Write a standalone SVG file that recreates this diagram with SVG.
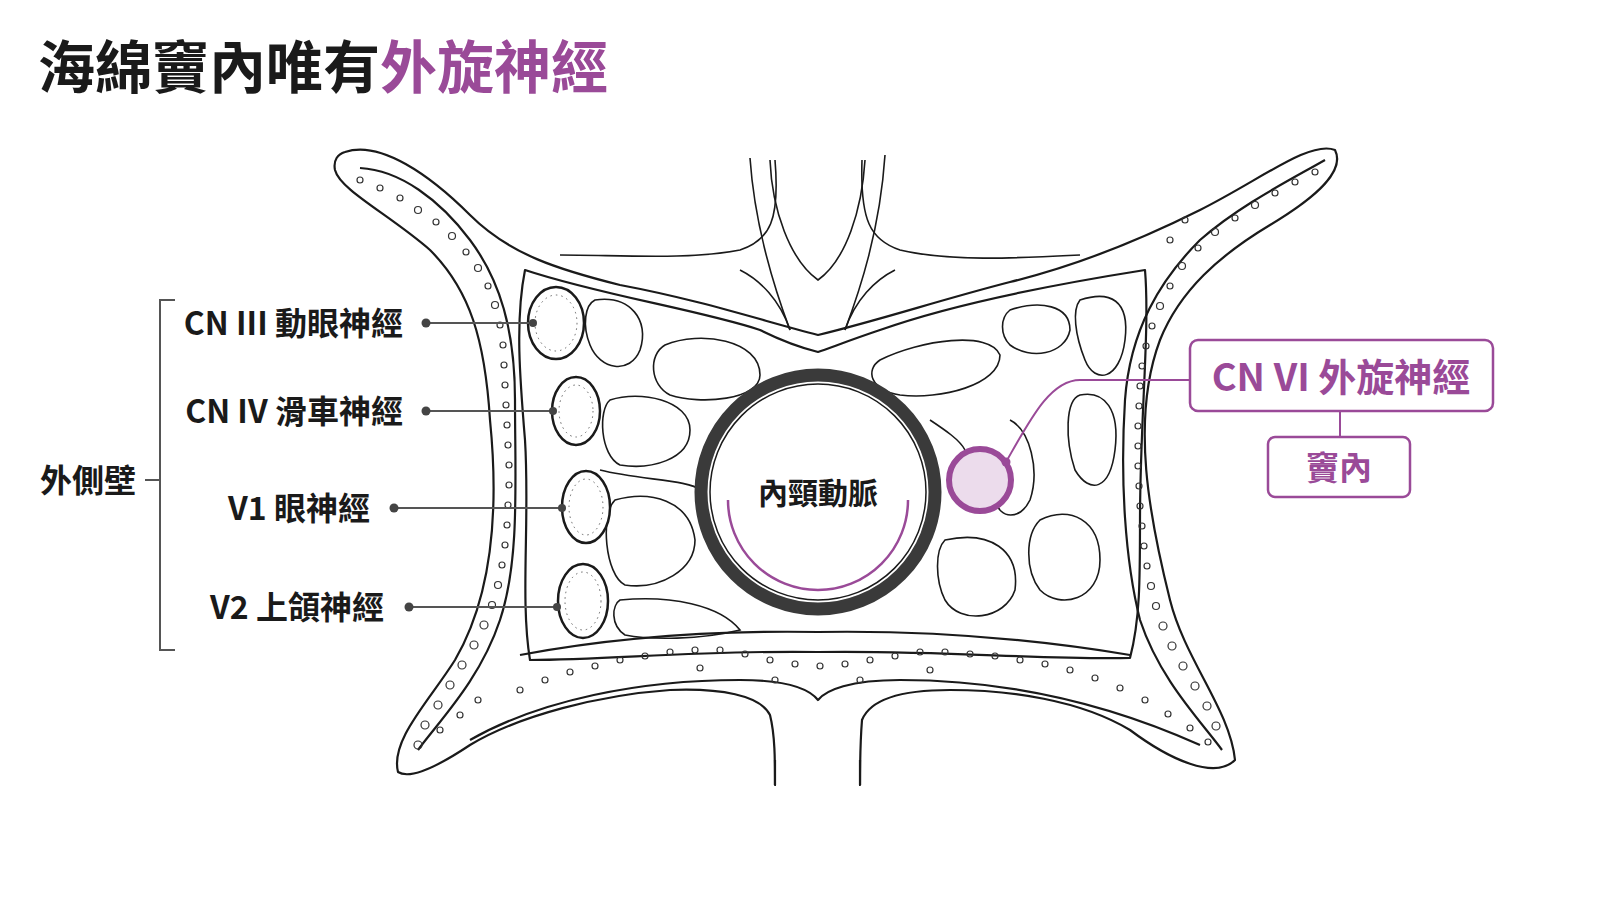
<svg xmlns="http://www.w3.org/2000/svg" width="1600" height="900" viewBox="0 0 1600 900">
<style>
.ln{fill:none;stroke:#1a1a1a;stroke-width:2.2;stroke-linejoin:round}
.th{fill:none;stroke:#1a1a1a;stroke-width:1.6}
.dot{fill:none;stroke:#333;stroke-width:1.2}
.lbl{font-family:"Noto Sans CJK TC","Noto Sans",sans-serif;font-weight:700;fill:#1a1a1a}
.pur{fill:#9a4a98}
.pl{stroke:#555;stroke-width:2;fill:none}
</style>
<rect width="1600" height="900" fill="#fff"/>
<text x="38" y="88" class="lbl" font-size="57">海綿竇內唯有<tspan class="pur">外旋神經</tspan></text>

<g id="bone">
<path class="ln" fill="#fff" d="M345,152 C380,140 430,175 470,215 C510,255 560,270 620,285 C700,300 760,320 818,335 C880,320 940,300 1010,282 C1080,265 1140,240 1200,210 C1260,180 1310,140 1335,150 C1345,170 1320,195 1270,225 C1220,255 1180,290 1160,340 C1130,420 1150,520 1170,600 C1185,660 1230,710 1235,760 C1215,780 1170,760 1130,730 C1080,700 1010,690 950,690 C900,690 870,700 862,720 C860,745 860,770 860,785 L775,785 C775,760 775,735 770,715 C760,695 720,688 670,690 C600,695 520,715 470,745 C440,765 410,780 398,772 C390,740 430,700 455,660 C490,600 500,520 490,420 C485,340 470,290 430,250 C390,215 340,190 335,170 C333,160 338,154 345,152 Z"/>
<rect x="776" y="700" width="83" height="90" fill="#fff"/>
<path class="ln" d="M860,785 L860,760 M775,785 L775,760"/>
<path class="ln" d="M360,168 C400,170 440,200 470,240 C500,280 515,330 515,400 C515,480 520,560 500,620 C480,680 440,720 418,750"/>
<path class="ln" d="M1325,160 C1290,180 1240,205 1200,240 C1160,280 1130,330 1125,400 C1120,480 1125,560 1140,620 C1160,680 1200,720 1222,750"/>
<path class="ln" d="M520,655 C600,640 700,630 818,632 C940,630 1040,640 1130,655"/>
<path class="ln" d="M470,740 C540,700 640,680 740,680 C790,680 810,690 818,700 C826,690 850,680 900,680 C1000,680 1100,700 1200,745"/>
</g>

<g id="stalk">
<path class="th" d="M750,158 C755,230 775,290 790,330"/>
<path class="th" d="M885,155 C880,230 860,290 845,330"/>
<path class="th" d="M770,160 C772,210 790,260 818,280 C846,260 862,210 865,160"/>
<path class="th" d="M560,255 C620,255 690,260 740,250 C770,240 780,220 775,160"/>
<path class="th" d="M1080,255 C1020,258 950,262 900,250 C870,240 860,220 862,160"/>
<path class="th" d="M790,330 C780,300 760,280 740,270"/>
<path class="th" d="M845,330 C855,300 875,280 895,270"/>
</g>

<g id="sinus">
<path class="ln" d="M525,270 C600,295 700,310 760,330 C790,345 810,350 818,352 C830,348 850,340 880,330 C950,305 1050,285 1145,270 C1150,330 1140,420 1140,520 C1140,580 1140,620 1130,658 C1040,660 940,650 818,652 C700,650 610,660 530,660 C520,600 530,520 525,440 C520,380 515,320 525,270 Z"/>
<path class="th" d="M595,300 C630,295 650,320 640,350 C630,375 600,370 590,345 C582,325 585,305 595,300 Z"/>
<path class="th" d="M665,345 C700,330 760,340 760,375 C760,400 700,405 670,395 C650,385 648,355 665,345 Z"/>
<path class="th" d="M610,400 C640,390 690,400 690,430 C690,460 650,470 620,465 C600,455 598,410 610,400 Z"/>
<path class="th" d="M615,500 C650,490 690,500 695,540 C695,570 660,590 625,585 C605,575 600,515 615,500 Z"/>
<path class="th" d="M620,600 C670,595 720,605 740,630 C700,640 650,640 625,635 C610,625 612,605 620,600 Z"/>
<path class="th" d="M880,360 C920,340 990,330 1000,355 C1000,385 940,400 900,395 C870,390 865,370 880,360 Z"/>
<path class="th" d="M1010,310 C1040,300 1070,305 1070,330 C1065,355 1030,360 1010,345 C1000,335 1000,318 1010,310 Z"/>
<path class="th" d="M1080,300 C1110,290 1130,300 1125,340 C1120,380 1095,385 1085,360 C1075,335 1072,310 1080,300 Z"/>
<path class="th" d="M1080,395 C1105,390 1120,410 1115,450 C1110,490 1090,495 1075,470 C1065,440 1065,400 1080,395 Z"/>
<path class="th" d="M1040,520 C1070,505 1100,520 1100,560 C1100,600 1060,610 1040,590 C1025,570 1025,535 1040,520 Z"/>
<path class="th" d="M945,540 C990,530 1020,550 1015,590 C1005,620 960,625 945,600 C935,580 935,550 945,540 Z"/>
<path class="th" d="M1010,420 C1030,430 1040,470 1030,500 C1020,520 1000,520 995,500"/>
<path class="th" d="M600,470 C640,480 690,480 700,490"/>
<path class="th" d="M930,420 C945,430 960,440 965,450"/>
</g>

<g id="dots">
<g class="dot">
<circle cx="360" cy="180" r="3"/><circle cx="380" cy="188" r="3"/><circle cx="400" cy="198" r="3"/><circle cx="418" cy="210" r="3.5"/><circle cx="436" cy="222" r="3"/><circle cx="452" cy="236" r="3.5"/><circle cx="466" cy="252" r="3"/><circle cx="478" cy="268" r="3.5"/><circle cx="488" cy="286" r="3"/><circle cx="495" cy="305" r="3.5"/><circle cx="500" cy="325" r="3"/><circle cx="503" cy="345" r="3"/><circle cx="504" cy="365" r="3"/><circle cx="505" cy="385" r="3"/><circle cx="506" cy="405" r="3"/><circle cx="507" cy="425" r="3"/><circle cx="508" cy="445" r="3"/><circle cx="509" cy="465" r="3"/><circle cx="509" cy="485" r="3"/><circle cx="508" cy="505" r="3"/><circle cx="507" cy="525" r="3"/><circle cx="505" cy="545" r="3"/><circle cx="502" cy="565" r="3"/><circle cx="498" cy="585" r="3.5"/><circle cx="492" cy="605" r="3.5"/><circle cx="484" cy="625" r="4"/><circle cx="474" cy="645" r="4"/><circle cx="462" cy="665" r="4"/><circle cx="450" cy="685" r="4"/><circle cx="438" cy="705" r="4"/><circle cx="425" cy="725" r="4"/><circle cx="418" cy="745" r="4"/><circle cx="440" cy="730" r="3"/><circle cx="460" cy="715" r="3"/><circle cx="478" cy="700" r="3"/>
<circle cx="520" cy="690" r="3"/><circle cx="545" cy="680" r="3"/><circle cx="570" cy="672" r="3"/><circle cx="595" cy="666" r="3"/><circle cx="620" cy="660" r="3"/><circle cx="645" cy="656" r="3"/><circle cx="670" cy="652" r="3"/><circle cx="695" cy="650" r="3"/><circle cx="720" cy="650" r="3"/><circle cx="745" cy="654" r="3"/><circle cx="770" cy="660" r="3"/><circle cx="795" cy="664" r="3"/><circle cx="820" cy="666" r="3"/><circle cx="845" cy="664" r="3"/><circle cx="870" cy="660" r="3"/><circle cx="895" cy="656" r="3"/><circle cx="920" cy="652" r="3"/><circle cx="945" cy="652" r="3"/><circle cx="970" cy="654" r="3"/><circle cx="995" cy="656" r="3"/><circle cx="1020" cy="660" r="3"/><circle cx="1045" cy="664" r="3"/><circle cx="1070" cy="670" r="3"/><circle cx="1095" cy="678" r="3"/><circle cx="1120" cy="688" r="3"/><circle cx="1145" cy="700" r="3"/><circle cx="1168" cy="714" r="3"/><circle cx="1190" cy="728" r="3"/><circle cx="1208" cy="742" r="3"/><circle cx="860" cy="680" r="3"/><circle cx="775" cy="680" r="3"/><circle cx="700" cy="668" r="3"/><circle cx="930" cy="670" r="3"/>
<circle cx="1315" cy="172" r="3"/><circle cx="1295" cy="182" r="3"/><circle cx="1275" cy="193" r="3"/><circle cx="1255" cy="205" r="3.5"/><circle cx="1235" cy="218" r="3"/><circle cx="1215" cy="232" r="3.5"/><circle cx="1198" cy="248" r="3"/><circle cx="1182" cy="266" r="3.5"/><circle cx="1170" cy="286" r="3"/><circle cx="1160" cy="306" r="3.5"/><circle cx="1152" cy="326" r="3"/><circle cx="1146" cy="346" r="3"/><circle cx="1142" cy="366" r="3"/><circle cx="1140" cy="386" r="3"/><circle cx="1139" cy="406" r="3"/><circle cx="1138" cy="426" r="3"/><circle cx="1138" cy="446" r="3"/><circle cx="1138" cy="466" r="3"/><circle cx="1139" cy="486" r="3"/><circle cx="1140" cy="506" r="3"/><circle cx="1142" cy="526" r="3"/><circle cx="1144" cy="546" r="3"/><circle cx="1147" cy="566" r="3"/><circle cx="1151" cy="586" r="3.5"/><circle cx="1156" cy="606" r="3.5"/><circle cx="1163" cy="626" r="4"/><circle cx="1172" cy="646" r="4"/><circle cx="1183" cy="666" r="4"/><circle cx="1195" cy="686" r="4"/><circle cx="1207" cy="706" r="4"/><circle cx="1216" cy="726" r="4"/><circle cx="1185" cy="220" r="3"/><circle cx="1170" cy="240" r="3"/>
</g>
</g>

<g id="cn3"><ellipse cx="556" cy="323" rx="28" ry="36" fill="#fff" stroke="#1a1a1a" stroke-width="2.5"/><ellipse cx="556" cy="323" rx="21" ry="28" fill="none" stroke="#666" stroke-width="1" stroke-dasharray="1.5 4"/></g>
<g id="cn4"><ellipse cx="576" cy="411" rx="24" ry="34" fill="#fff" stroke="#1a1a1a" stroke-width="2.5"/><ellipse cx="576" cy="411" rx="17" ry="26" fill="none" stroke="#666" stroke-width="1" stroke-dasharray="1.5 4"/></g>
<g id="v1"><ellipse cx="586" cy="507" rx="24" ry="36" fill="#fff" stroke="#1a1a1a" stroke-width="2.5"/><ellipse cx="586" cy="507" rx="17" ry="28" fill="none" stroke="#666" stroke-width="1" stroke-dasharray="1.5 4"/></g>
<g id="v2"><ellipse cx="583" cy="601" rx="25" ry="37" fill="#fff" stroke="#1a1a1a" stroke-width="2.5"/><ellipse cx="583" cy="601" rx="18" ry="29" fill="none" stroke="#666" stroke-width="1" stroke-dasharray="1.5 4"/></g>

<g id="ica">
<circle cx="818" cy="492" r="117" fill="#fff" stroke="#3a3a3a" stroke-width="13"/>
<circle cx="818" cy="492" r="108" fill="none" stroke="#1a1a1a" stroke-width="1.5"/>
<path d="M728,500 A90,90 0 0 0 908,500" fill="none" stroke="#9a4a98" stroke-width="2.5"/>
<text x="818" y="504" class="lbl" font-size="30" text-anchor="middle">內頸動脈</text>
</g>

<g id="cn6"><circle cx="980" cy="480" r="31" fill="#ecdcec" stroke="#9a4a98" stroke-width="6"/></g>

<g id="connectors">
<line class="pl" x1="426" y1="323" x2="533" y2="323"/><circle cx="426" cy="323" r="4.5" fill="#444"/><circle cx="533" cy="323" r="4" fill="#444"/>
<line class="pl" x1="426" y1="411" x2="553" y2="411"/><circle cx="426" cy="411" r="4.5" fill="#444"/><circle cx="553" cy="411" r="4" fill="#444"/>
<line class="pl" x1="394" y1="508" x2="562" y2="508"/><circle cx="394" cy="508" r="4.5" fill="#444"/><circle cx="562" cy="508" r="4" fill="#444"/>
<line class="pl" x1="409" y1="607" x2="557" y2="607"/><circle cx="409" cy="607" r="4.5" fill="#444"/><circle cx="557" cy="607" r="4" fill="#444"/>
<path class="pl" d="M175,300 H160 V650 H175 M160,480 H145"/>
<path d="M1006,462 C1030,420 1050,380 1080,380 H1190" fill="none" stroke="#9a4a98" stroke-width="2"/>
<circle cx="1006" cy="462" r="4.5" fill="#9a4a98"/>
<line x1="1340" y1="411" x2="1340" y2="437" stroke="#9a4a98" stroke-width="2"/>
</g>

<g id="labels">
<text x="403" y="335" class="lbl" font-size="32" text-anchor="end">CN III 動眼神經</text>
<text x="403" y="423" class="lbl" font-size="32" text-anchor="end">CN IV 滑車神經</text>
<text x="370" y="520" class="lbl" font-size="32" text-anchor="end">V1 眼神經</text>
<text x="384" y="619" class="lbl" font-size="32" text-anchor="end">V2 上頜神經</text>
<text x="40" y="492" class="lbl" font-size="32">外側壁</text>
</g>
<g id="box1"><rect x="1190" y="340" width="303" height="71" rx="8" fill="#fff" stroke="#9a4a98" stroke-width="2.5"/><text x="1341" y="391" class="lbl pur" font-size="38" text-anchor="middle">CN VI  外旋神經</text></g>
<g id="box2"><rect x="1268" y="437" width="142" height="60" rx="7" fill="#fff" stroke="#9a4a98" stroke-width="2.5"/><text x="1339" y="480" class="lbl pur" font-size="33" text-anchor="middle">竇內</text></g>
</svg>
